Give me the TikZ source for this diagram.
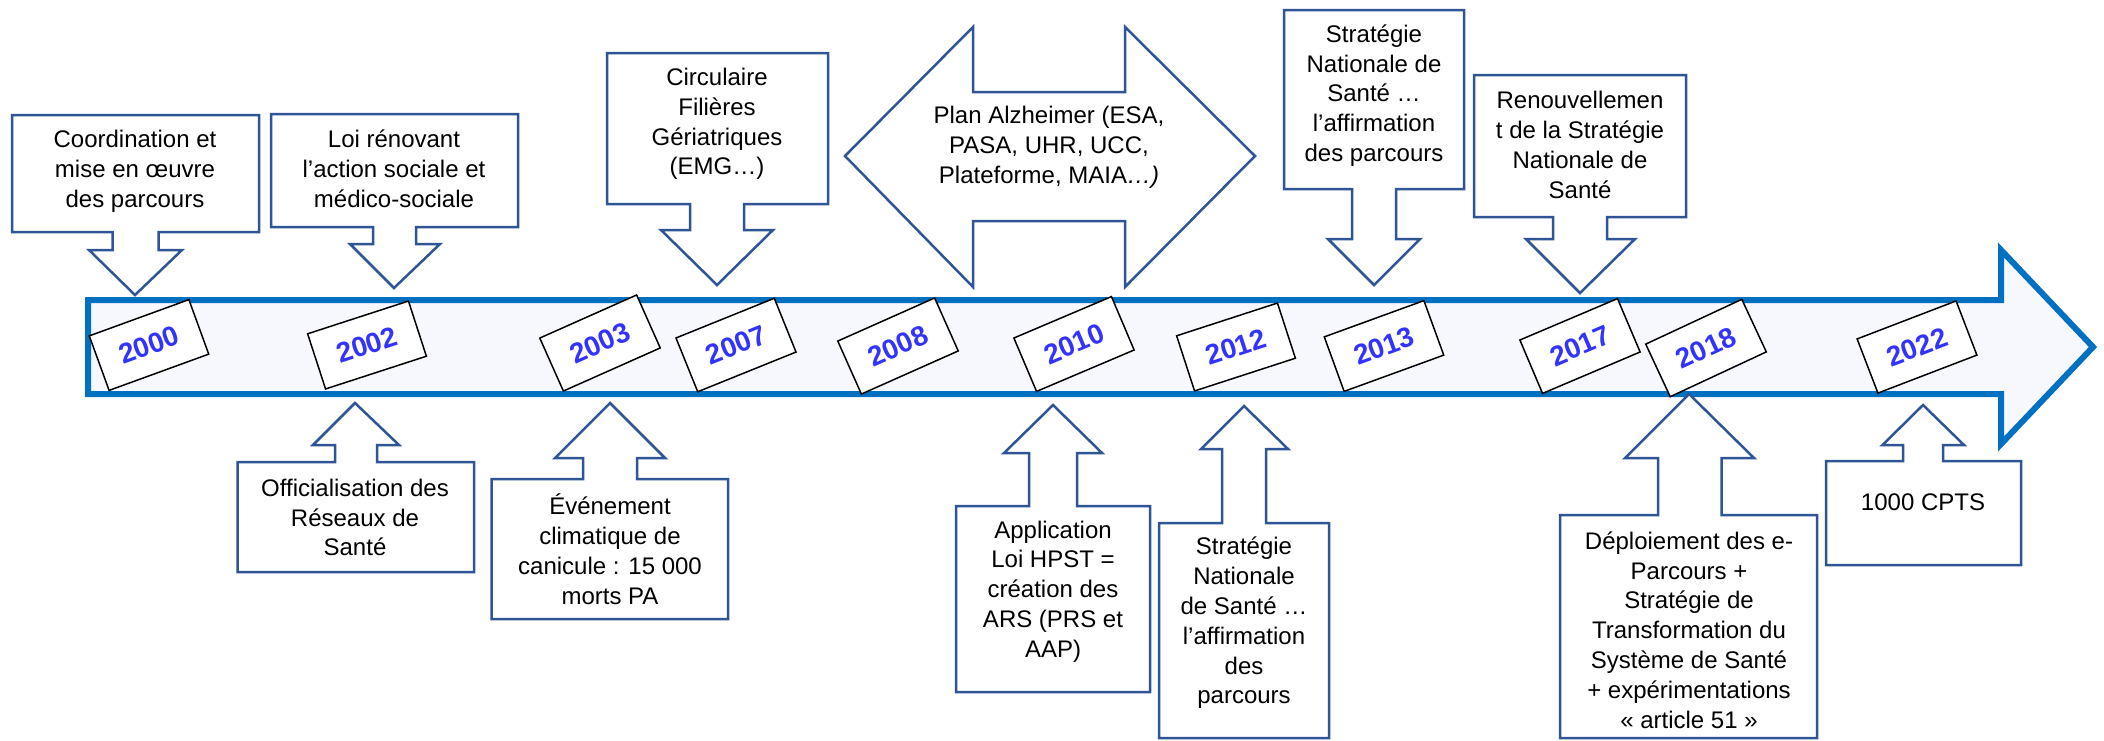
\documentclass[tikz,border=0pt]{standalone}
\usepackage{fontspec}
\setmainfont{Liberation Sans}
\definecolor{bandblue}{RGB}{0,112,192}
\definecolor{bandfill}{RGB}{246,248,254}
\definecolor{calloutblue}{RGB}{47,85,151}
\definecolor{yearblue}{RGB}{51,51,255}
\begin{document}
\begin{tikzpicture}[x=1pt,y=-1pt,
  callout/.style={draw=calloutblue, line width=2.5pt, fill=white, line join=miter},
  boxtext/.style={align=center, inner sep=0pt, font=\fontsize{24}{29.8}\selectfont, text=black},
  yearbox/.style={draw=black, line width=1.5pt, fill=white, minimum width=106pt, minimum height=58pt, inner sep=0pt, font=\bfseries\fontsize{28}{28}\selectfont, text=yearblue}]
\useasboundingbox (0,0) rectangle (2104,740);

% timeline band
\draw[draw=bandblue, fill=bandfill, line width=6pt, line join=miter, miter limit=10]
  (88,300) -- (2001,300) -- (2001,250) -- (2093,347) -- (2001,444) -- (2001,394) -- (88,394) -- cycle;

% year labels
\node[yearbox, rotate=20] (y2000) at (149,345) {2000};
\node[yearbox, rotate=18] (y2002) at (367,345) {2002};
\node[yearbox, rotate=24] (y2003) at (600,343) {2003};
\node[yearbox, rotate=22] (y2007) at (736,345) {2007};
\node[yearbox, rotate=24] (y2008) at (898,346) {2008};
\node[yearbox, rotate=23] (y2010) at (1074,344) {2010};
\node[yearbox, rotate=18] (y2012) at (1236,347) {2012};
\node[yearbox, rotate=20] (y2013) at (1384,346) {2013};
\node[yearbox, rotate=23] (y2017) at (1580,346) {2017};
\node[yearbox, rotate=25] (y2018) at (1706,348) {2018};
\node[yearbox, rotate=21] (y2022) at (1917,347) {2022};

% top callouts (down arrows)
\draw[callout] (12,115) -- (259,115) -- (259,232) -- (158.5,232) -- (158.5,250) -- (182,250) -- (135,295) -- (89,250) -- (112.5,250) -- (112.5,232) -- (12,232) -- cycle;
\node[boxtext] (t1) at (135,171) {Coordination et\\mise en œuvre\\des parcours};

\draw[callout] (271,114) -- (518,114) -- (518,227) -- (416,227) -- (416,244) -- (440,244) -- (394,288) -- (350,244) -- (373,244) -- (373,227) -- (271,227) -- cycle;
\node[boxtext] (t2) at (394,169) {Loi rénovant\\l’action sociale et\\médico-sociale};

\draw[callout] (607,53) -- (828,53) -- (828,204) -- (744,204) -- (744,230) -- (773,230) -- (717,285) -- (661,230) -- (690,230) -- (690,204) -- (607,204) -- cycle;
\node[boxtext] (t3) at (717,124) {Circulaire\\Filières\\Gériatriques\\(EMG…)};

\draw[callout] (845,156) -- (973,27) -- (973,92) -- (1125,92) -- (1125,27) -- (1255,156) -- (1125,287) -- (1125,221) -- (973,221) -- (973,287) -- cycle;
\node[boxtext] (t4) at (1049,147.5) {Plan Alzheimer (ESA,\\PASA, UHR, UCC,\\Plateforme, MAIA\textit{…)}};

\draw[callout] (1284,10) -- (1464,10) -- (1464,189) -- (1396,189) -- (1396,239) -- (1420,239) -- (1374,285) -- (1328,239) -- (1352,239) -- (1352,189) -- (1284,189) -- cycle;
\node[boxtext] (t5) at (1374,95.5) {Stratégie\\Nationale de\\Santé …\\l’affirmation\\des parcours};

\draw[callout] (1474,75) -- (1686,75) -- (1686,217) -- (1607,217) -- (1607,239) -- (1635,239) -- (1580,293) -- (1526,239) -- (1553,239) -- (1553,217) -- (1474,217) -- cycle;
\node[boxtext] (t6) at (1580,145) {Renouvellemen\\t de la Stratégie\\Nationale de\\Santé};

% bottom callouts (up arrows)
\draw[callout] (237.5,572) -- (474,572) -- (474,462) -- (377,462) -- (377,445) -- (399,445) -- (355,403) -- (313,445) -- (335,445) -- (335,462) -- (237.5,462) -- cycle;
\node[boxtext] (b1) at (355,517.5) {Officialisation des\\Réseaux de\\Santé};

\draw[callout] (491.5,619) -- (728,619) -- (728,479) -- (637,479) -- (637,458) -- (665,458) -- (610,403) -- (555,458) -- (583,458) -- (583,479) -- (491.5,479) -- cycle;
\node[boxtext] (b2) at (610,549) {Événement\\climatique de\\canicule : 15 000\\morts PA};

\draw[callout] (956,692) -- (1150,692) -- (1150,506) -- (1077,506) -- (1077,453) -- (1102,453) -- (1053,405) -- (1004,453) -- (1029,453) -- (1029,506) -- (956,506) -- cycle;
\node[boxtext] (b3) at (1053,591.5) {Application\\Loi HPST =\\création des\\ARS (PRS et\\AAP)};

\draw[callout] (1159,738) -- (1329,738) -- (1329,523) -- (1266,523) -- (1266,449) -- (1288,449) -- (1244,406) -- (1201,449) -- (1222,449) -- (1222,523) -- (1159,523) -- cycle;
\node[boxtext] (b4) at (1244,623) {Stratégie\\Nationale\\de Santé …\\l’affirmation\\des\\parcours};

\draw[callout] (1560,738) -- (1817,738) -- (1817,515) -- (1721.5,515) -- (1721.5,458) -- (1754,458) -- (1689,394) -- (1625,458) -- (1658,458) -- (1658,515) -- (1560,515) -- cycle;
\node[boxtext] (b5) at (1689,630) {Déploiement des e-\\Parcours +\\Stratégie de\\Transformation du\\Système de Santé\\+ expérimentations\\« article 51 »};

\draw[callout] (1826,565) -- (2021,565) -- (2021,461) -- (1943,461) -- (1943,445) -- (1964,445) -- (1923,405) -- (1882.5,445) -- (1903,445) -- (1903,461) -- (1826,461) -- cycle;
\node[boxtext] (b6) at (1923,502) {1000 CPTS};
\end{tikzpicture}
\end{document}
